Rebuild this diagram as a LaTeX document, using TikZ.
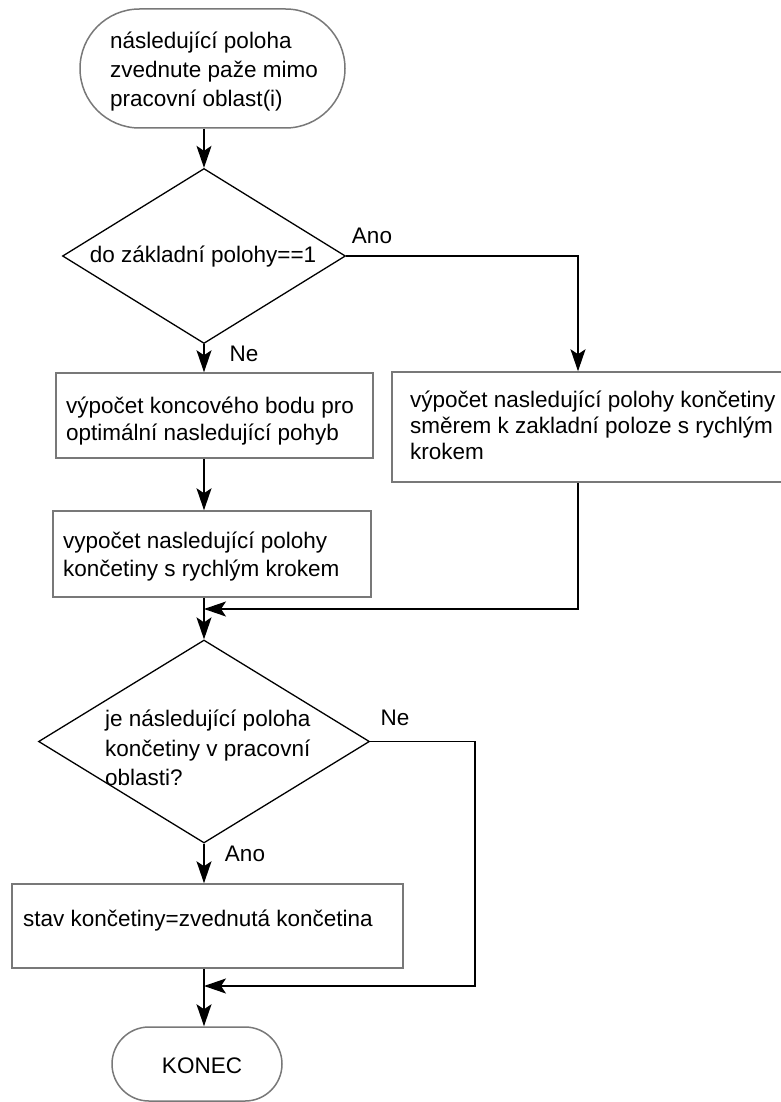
\documentclass[tikz,border=0pt]{standalone}
\usepackage{fontspec}
\setmainfont{Liberation Sans}
\usetikzlibrary{shapes.geometric,shapes.misc,arrows.meta}
\definecolor{boxgray}{gray}{0.47}
\begin{document}
\begin{tikzpicture}[x=1pt,y=-1pt,
  every node/.style={font=\fontsize{22.5}{28}\selectfont, inner sep=0pt},
  box/.style={draw=boxgray, line width=1.5pt, rectangle},
  term/.style={draw=boxgray, line width=1.5pt, rounded rectangle},
  decision/.style={draw=black, line width=1.3pt, diamond},
  txt/.style={anchor=west, align=left},
  flow/.style={draw=black, line width=1.4pt, -{Stealth[length=22pt,width=15pt,inset=5pt]}},
]
\useasboundingbox (0,0) rectangle (781,1102);

% shapes
\node[term, minimum width=265pt, minimum height=119pt] (start) at (212.5,68.5) {};
\node[decision, minimum width=283pt, minimum height=175pt] (d1) at (204,256) {};
\node[box, minimum width=317pt, minimum height=85pt] (box1) at (214.5,415.5) {};
\node[box, minimum width=390pt, minimum height=110pt] (rbox) at (587,427) {};
\node[box, minimum width=318pt, minimum height=86pt] (box2) at (212,554) {};
\node[decision, minimum width=331pt, minimum height=203pt] (d2) at (204,741.5) {};
\node[box, minimum width=391pt, minimum height=84pt] (box3) at (207.5,926) {};
\node[term, minimum width=170pt, minimum height=74pt] (end) at (197,1064) {};

% texts
\node[txt, font=\fontsize{22.5}{29}\selectfont] (starttext) at (110,72) {následující poloha\\zvednute paže mimo\\pracovní oblast(i)};
\node (d1text) at (203,257) {do základní polohy==1};
\node[txt, font=\fontsize{22.5}{26.5}\selectfont] (box1text) at (66,421) {výpočet koncového bodu pro\\optimální nasledující pohyb};
\node[txt, font=\fontsize{22.5}{26}\selectfont] (rboxtext) at (410,425) {výpočet nasledující polohy končetiny\\směrem k zakladní poloze s rychlým\\krokem};
\node[txt, font=\fontsize{22.5}{28}\selectfont] (box2text) at (63,557) {vypočet nasledující polohy\\končetiny s rychlým krokem};
\node[txt, font=\fontsize{22.5}{29.5}\selectfont] (d2text) at (105,748) {je následující poloha\\končetiny v pracovní\\oblasti?};
\node[txt] (box3text) at (23,921) {stav končetiny=zvednutá končetina};
\node (endtext) at (202,1066) {KONEC};

% branch labels
\node (ano1) at (372,236) {Ano};
\node (ne1) at (244,354) {Ne};
\node (ne2) at (395,718) {Ne};
\node (ano2) at (245,854) {Ano};

% helper points for the side columns and joins
\coordinate (rcol) at (578,0);
\coordinate (ncol) at (475,0);
\coordinate (merge1) at (204,609);
\coordinate (merge2) at (204,986);

% connectors
\draw[flow] (start.south -| d1.north) -- (d1.north);
\draw[flow] (d1.east) -| (rbox.north -| rcol);
\draw[flow] (d1.south) -- (d1.south |- box1.north);
\draw[flow] (box1.south -| d1.south) -- (box2.north -| d1.south);
\draw[flow] (box2.south -| d2.north) -- (d2.north);
\draw[flow] (rbox.south -| rcol) |- (merge1);
\draw[flow] (d2.east) -| (ncol |- merge2) -- (merge2);
\draw[flow] (d2.south) -- (d2.south |- box3.north);
\draw[flow] (box3.south -| d2.south) -- (d2.south |- end.north);
\end{tikzpicture}
\end{document}
